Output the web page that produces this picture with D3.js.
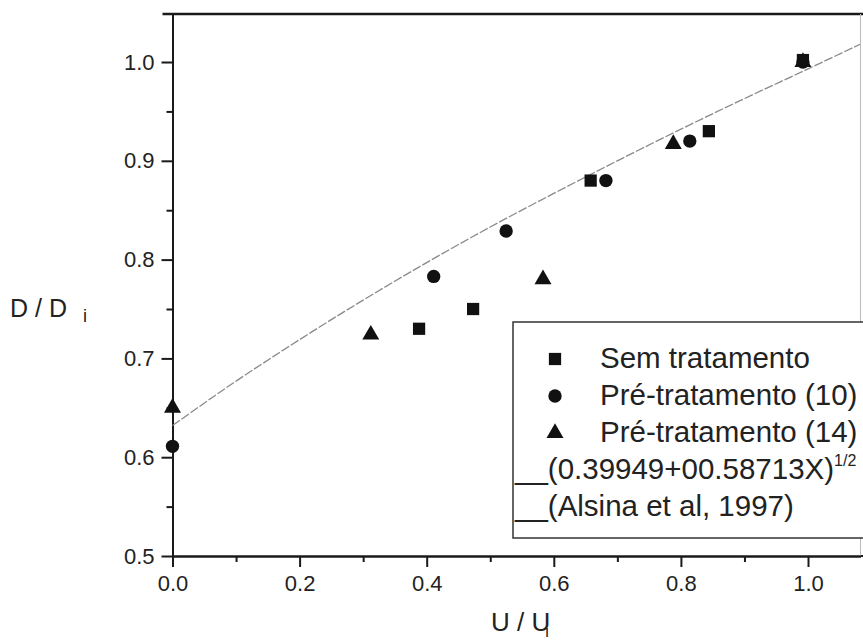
<!DOCTYPE html>
<html>
<head>
<meta charset="utf-8">
<script src="https://cdn.jsdelivr.net/npm/d3@7"></script>
<style>
  body { margin: 0; background: #fff; }
  svg { display: block; font-family: "Liberation Sans", Arial, Helvetica, sans-serif; }
</style>
</head>
<body>
<svg id="chart" width="863" height="640"></svg>
<script>
// values (x = U/Ui, y = D/Di)
const semX = [0.388, 0.473, 0.658, 0.844, 0.992];
const semY = [0.730, 0.750, 0.880, 0.930, 1.002];
const pre10X = [0.0, 0.411, 0.525, 0.682, 0.814, 0.992];
const pre10Y = [0.611, 0.783, 0.829, 0.880, 0.920, 1.000];
const pre14X = [0.0, 0.312, 0.583, 0.788, 0.992];
const pre14Y = [0.650, 0.724, 0.780, 0.917, 1.000];

// fitted curve
const fitX = [0, 0.1, 0.2, 0.3, 0.4, 0.5, 0.6, 0.7, 0.8, 0.9, 1.0, 1.082];
const fitY = [0.632, 0.677, 0.719, 0.759, 0.797, 0.833, 0.867, 0.900, 0.932, 0.963, 0.993, 1.018];

const xTicks = [0, 0.2, 0.4, 0.6, 0.8, 1.0];
const xMinor = [0.1, 0.3, 0.5, 0.7, 0.9];
const yTicks = [0.5, 0.6, 0.7, 0.8, 0.9, 1.0];
const yMinor = [0.55, 0.65, 0.75, 0.85, 0.95];

const legendLabels = ["Sem tratamento", "Pré-tratamento (10)", "Pré-tratamento (14)"];
const fitLabel = "__(0.39949+00.58713X)";
const fitPower = "1/2";
const sourceLabel = "__(Alsina et al, 1997)";

const margin = { left: 172.5, top: 14 };
const width = 688;
const height = 542;
const ink = "#1a1a1a";

const svg = d3.select("#chart");
const g = svg.append("g")
  .attr("transform", "translate(" + margin.left + "," + margin.top + ")");

const x = d3.scaleLinear().domain([0, 1.0826]).range([0, width]);
const y = d3.scaleLinear().domain([0.5, 1.0486]).range([height, 0]);

function styleAxis(sel) {
  sel.selectAll("path").attr("stroke", ink).attr("stroke-width", 2);
  sel.selectAll("line").attr("stroke", ink).attr("stroke-width", 2);
  sel.selectAll("text").attr("fill", "#222").style("font-size", "22px")
    .style("font-family", "'Liberation Sans', Arial, sans-serif");
}

// minor ticks
g.append("g")
  .attr("transform", "translate(0," + height + ")")
  .call(d3.axisBottom(x).tickValues(xMinor).tickSize(6).tickSizeOuter(0).tickFormat(""))
  .call(styleAxis);
g.append("g")
  .call(d3.axisLeft(y).tickValues(yMinor).tickSize(6).tickSizeOuter(0).tickFormat(""))
  .call(styleAxis);

// major ticks
g.append("g")
  .attr("transform", "translate(0," + height + ")")
  .call(d3.axisBottom(x).tickValues(xTicks).tickSize(11).tickPadding(8).tickSizeOuter(0).tickFormat(d3.format(".1f")))
  .call(styleAxis);
g.append("g")
  .call(d3.axisLeft(y).tickValues(yTicks).tickSize(11).tickPadding(7).tickSizeOuter(0).tickFormat(d3.format(".1f")))
  .call(styleAxis);

// frame: heavy top edge, faint right edge
g.append("line")
  .attr("x1", -10).attr("x2", width + 4)
  .attr("y1", 0).attr("y2", 0)
  .attr("stroke", ink).attr("stroke-width", 2.5);
g.append("line")
  .attr("x1", width).attr("x2", width)
  .attr("y1", 0).attr("y2", height)
  .attr("stroke", "#bbb").attr("stroke-width", 1);
g.append("line")
  .attr("x1", width).attr("x2", width + 4)
  .attr("y1", height).attr("y2", height)
  .attr("stroke", ink).attr("stroke-width", 2);

// fitted curve
const fitPts = fitX.map((v, i) => [v, fitY[i]]);
g.append("path")
  .datum(fitPts)
  .attr("fill", "none")
  .attr("stroke", "#8a8a8a")
  .attr("stroke-width", 1.3)
  .attr("stroke-dasharray", "9,2")
  .attr("d", d3.line().x(d => x(d[0])).y(d => y(d[1])).curve(d3.curveMonotoneX));

const series = [
  { xs: semX, ys: semY, type: d3.symbolSquare, size: 150 },
  { xs: pre10X, ys: pre10Y, type: d3.symbolCircle, size: 140 },
  { xs: pre14X, ys: pre14Y, type: d3.symbolTriangle, size: 125 }
];

series.forEach(s => {
  g.selectAll(null)
    .data(s.xs.map((v, i) => [v, s.ys[i]]))
    .enter()
    .append("path")
    .attr("transform", d => "translate(" + x(d[0]) + "," + y(d[1]) + ")")
    .attr("d", d3.symbol().type(s.type).size(s.size))
    .attr("fill", "#111");
});

// legend
const legend = svg.append("g").attr("transform", "translate(513,322)");
legend.append("rect")
  .attr("x", 0).attr("y", 0)
  .attr("width", 400).attr("height", 216)
  .attr("fill", "#fff")
  .attr("stroke", "#333").attr("stroke-width", 1.5);

const rowY = d3.scaleLinear().domain([0, 4]).range([46, 194]);

legendLabels.forEach((label, i) => {
  legend.append("path")
    .attr("transform", "translate(42," + (rowY(i) - 9) + ")")
    .attr("d", d3.symbol().type(series[i].type).size(series[i].size))
    .attr("fill", "#111");
  legend.append("text")
    .attr("x", 87).attr("y", rowY(i))
    .attr("fill", "#222")
    .style("font-size", "29.5px")
    .text(label);
});

const fitText = legend.append("text")
  .attr("x", 2).attr("y", rowY(3))
  .attr("fill", "#222")
  .style("font-size", "29.5px");
fitText.append("tspan").text(fitLabel);
fitText.append("tspan")
  .attr("dy", -13)
  .style("font-size", "16px")
  .text(fitPower);

legend.append("text")
  .attr("x", 2).attr("y", rowY(4))
  .attr("fill", "#222")
  .style("font-size", "29.5px")
  .text(sourceLabel);

// axis titles
const yTitle = svg.append("text")
  .attr("x", 10).attr("y", 317)
  .attr("fill", "#222")
  .style("font-size", "25px");
yTitle.append("tspan").text("D / D");
yTitle.append("tspan")
  .attr("dx", 16).attr("dy", 5)
  .style("font-size", "18px")
  .text("i");

const xTitle = svg.append("text")
  .attr("x", 491).attr("y", 631)
  .attr("fill", "#222")
  .style("font-size", "26px");
xTitle.append("tspan").text("U / U");
xTitle.append("tspan")
  .attr("dx", -5).attr("dy", 6)
  .style("font-size", "16px")
  .text("i");
</script>
</body>
</html>
